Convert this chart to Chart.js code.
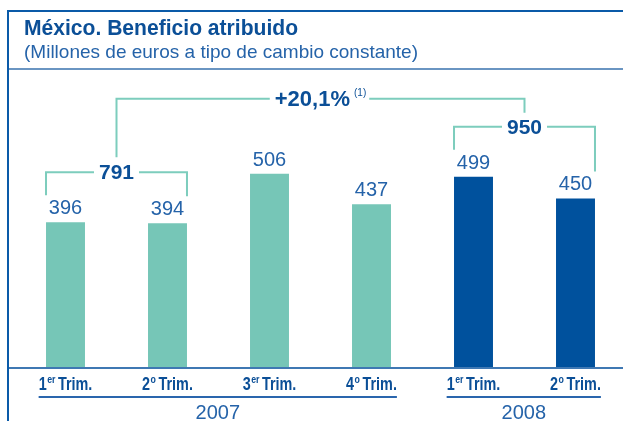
<!DOCTYPE html>
<html>
<head>
<meta charset="utf-8">
<script src="https://cdn.jsdelivr.net/npm/chart.js@4.4.1/dist/chart.umd.min.js"></script>
<style>
  html, body { margin: 0; padding: 0; background: #fff; overflow: hidden; }
  #wrap { position: relative; width: 623px; height: 421px; overflow: hidden; }
  #myChart { position: absolute; left: 0; top: 0; }
</style>
</head>
<body>
<div id="wrap"><canvas id="myChart" width="640" height="421" style="width:640px;height:421px"></canvas></div>
<script>
const titleText = 'México. Beneficio atribuido';
const subtitleText = '(Millones de euros a tipo de cambio constante)';
const quarterNum = ['1', '2', '3', '4', '1', '2'];
const quarterSup = ['er', 'o', 'er', 'o', 'er', 'o'];
const years = ['2007', '2008'];
const yearIdx = [0, 0, 0, 0, 1, 1];
const values = [396, 394, 506, 437, 499, 450];
const sum2007 = '791';
const sum2008 = '950';
const growth = '+20,1%';
const growthNote = '(1)';

const TEAL = '#76c6b7';
const NAVY = '#00519d';
const LINE = '#7dcdbd';
const TXT = '#2563a9';
const DARK = '#0b4f97';
const SANS = '"Liberation Sans", Arial, sans-serif';

// squeeze text horizontally (the original uses a condensed face)
function narrowText(ctx, str, x, y, sx) {
  ctx.save();
  ctx.translate(x, y);
  ctx.scale(sx, 1);
  ctx.fillText(str, 0, 0);
  ctx.restore();
}

const overlay = {
  id: 'overlay',
  afterDatasetsDraw(chart) {
    const ctx = chart.ctx;
    const x = chart.scales.x;
    const bars = chart.getDatasetMeta(0).data;
    const W = chart.width;
    ctx.save();

    // frame
    ctx.fillStyle = '#0a5aa8';
    ctx.fillRect(7, 10, W, 2);
    ctx.fillRect(7, 10, 2, 421);
    ctx.fillStyle = '#6a95c2';
    ctx.fillRect(9, 68, W, 2);
    ctx.fillStyle = '#3f78b3';
    ctx.fillRect(9, 367, W, 2);

    // title
    ctx.textAlign = 'left';
    ctx.textBaseline = 'alphabetic';
    ctx.fillStyle = DARK;
    ctx.font = 'bold 22px ' + SANS;
    narrowText(ctx, titleText, 24, 35, 274 / ctx.measureText(titleText).width);
    ctx.fillStyle = TXT;
    ctx.font = '19px ' + SANS;
    narrowText(ctx, subtitleText, 24, 58, 394 / ctx.measureText(subtitleText).width);

    // value labels
    ctx.textAlign = 'center';
    ctx.font = '20px ' + SANS;
    ctx.fillStyle = TXT;
    bars.forEach((b, i) => ctx.fillText(String(values[i]), b.x, b.y - 8));

    // brackets
    ctx.strokeStyle = LINE;
    ctx.lineWidth = 2;
    const half = bars[0].width / 2;
    function bracket(i, j, label) {
      const l = bars[i].x - half, r = bars[j].x + half;
      const y = Math.min(bars[i].y, bars[j].y) - 50;
      const cx = (l + r) / 2;
      ctx.font = 'bold 21px ' + SANS;
      const tw = ctx.measureText(label).width;
      ctx.beginPath();
      ctx.moveTo(l, bars[i].y - 27); ctx.lineTo(l, y); ctx.lineTo(cx - tw / 2 - 5, y);
      ctx.moveTo(cx + tw / 2 + 5, y); ctx.lineTo(r, y); ctx.lineTo(r, bars[j].y - 27);
      ctx.stroke();
      ctx.fillStyle = DARK;
      ctx.textBaseline = 'middle';
      ctx.fillText(label, cx, y + 1);
      return { cx: cx, y: y };
    }
    const a = bracket(0, 1, sum2007);
    const b = bracket(4, 5, sum2008);
    const ty = Math.min(a.y, b.y) - 28;
    const tcx = (a.cx + b.cx) / 2;
    ctx.font = 'bold 22px ' + SANS;
    const gw = ctx.measureText(growth).width;
    ctx.font = '10px ' + SANS;
    const nw = ctx.measureText(growthNote).width;
    const left = tcx - (gw + 4 + nw) / 2;
    ctx.beginPath();
    ctx.moveTo(a.cx, a.y - 15); ctx.lineTo(a.cx, ty); ctx.lineTo(left - 5, ty);
    ctx.moveTo(left + gw + 4 + nw + 3, ty); ctx.lineTo(b.cx, ty); ctx.lineTo(b.cx, b.y - 14);
    ctx.stroke();
    ctx.textAlign = 'left';
    ctx.fillStyle = DARK;
    ctx.font = 'bold 22px ' + SANS;
    ctx.fillText(growth, left, ty + 1);
    ctx.font = '10px ' + SANS;
    ctx.fillText(growthNote, left + gw + 4, ty - 6);

    // category labels
    ctx.textBaseline = 'alphabetic';
    const sx = 0.8;
    const bounds = [];
    quarterNum.forEach((n, i) => {
      const cx = x.getPixelForValue(i);
      ctx.font = 'bold 18px ' + SANS;
      const w1 = ctx.measureText(n).width * sx;
      const w3 = ctx.measureText('Trim.').width * sx;
      ctx.font = 'bold 11px ' + SANS;
      const w2 = ctx.measureText(quarterSup[i]).width * sx;
      const gap = 3;
      const tot = w1 + w2 + gap + w3;
      const px = cx - tot / 2;
      ctx.fillStyle = DARK;
      ctx.font = 'bold 18px ' + SANS;
      narrowText(ctx, n, px, 390, sx);
      ctx.font = 'bold 11px ' + SANS;
      narrowText(ctx, quarterSup[i], px + w1 + 0.5, 383, sx);
      ctx.font = 'bold 18px ' + SANS;
      narrowText(ctx, 'Trim.', px + w1 + w2 + gap, 390, sx);
      bounds.push([px, px + tot]);
    });

    // year groups
    years.forEach((yr, k) => {
      const idx = yearIdx.map((v, i) => v === k ? i : -1).filter(i => i >= 0);
      const l = bounds[idx[0]][0], r = bounds[idx[idx.length - 1]][1];
      ctx.fillStyle = '#2a66ad';
      ctx.fillRect(l, 396, r - l, 2);
      ctx.fillStyle = TXT;
      ctx.textAlign = 'center';
      ctx.font = '20px ' + SANS;
      ctx.fillText(yr, (l + r) / 2, 419);
      ctx.textAlign = 'left';
    });
    ctx.restore();
  }
};

new Chart('myChart', {
  type: 'bar',
  data: {
    labels: quarterNum.map((n, i) => n + quarterSup[i] + ' Trim.'),
    datasets: [{
      data: values,
      backgroundColor: yearIdx.map(k => k === 0 ? TEAL : NAVY),
      borderWidth: 0,
      categoryPercentage: 1,
      barPercentage: 0.382
    }]
  },
  options: {
    responsive: false,
    animation: false,
    layout: { padding: { left: 14.5, right: 13.5, top: 88, bottom: 53 } },
    plugins: { legend: { display: false }, tooltip: { enabled: false } },
    scales: {
      x: { display: false },
      y: { display: false, min: 66, max: 700 }
    }
  },
  plugins: [overlay]
});
</script>
</body>
</html>
